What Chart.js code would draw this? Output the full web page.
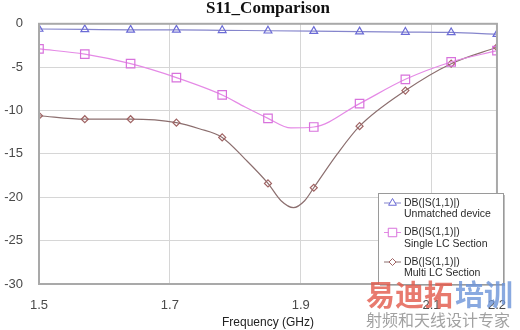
<!DOCTYPE html>
<html>
<head>
<meta charset="utf-8">
<script src="https://cdn.jsdelivr.net/npm/chart.js@4/dist/chart.umd.min.js"></script>
<style>
  html, body { margin: 0; padding: 0; background: #fff; }
  #wrap { width: 520px; height: 330px; position: relative; }
</style>
</head>
<body>
<div id="wrap"><canvas id="chart" width="520" height="330"></canvas></div>
<script>
// frequencies (GHz) where the markers sit
const markerFreqs = [1.5, 1.57, 1.64, 1.71, 1.78, 1.85, 1.92, 1.99, 2.06, 2.13, 2.2];

// S11 in dB at marker frequencies
const unmatched = [-0.6, -0.65, -0.7, -0.7, -0.75, -0.8, -0.85, -0.9, -0.95, -1.0, -1.2];
const singleLC  = [-2.9, -3.5, -4.6, -6.2, -8.2, -10.9, -11.9, -9.2, -6.4, -4.4, -3.1];
const multiLC   = [-10.6, -11.0, -11.0, -11.4, -13.1, -18.4, -18.9, -11.8, -7.7, -4.6, -2.7];

// extra curve points read between markers (no marker drawn)
const singleExtraFreqs = [1.815, 1.885];
const singleExtra      = [-9.6, -12.0];
const multiExtraFreqs  = [1.745, 1.815, 1.87, 1.889, 1.906, 1.956];
const multiExtra       = [-12.1, -15.6, -20.4, -21.2, -20.4, -15.0];

const xTicks = [1.5, 1.7, 1.9, 2.1, 2.2];
const seriesNames = ['Unmatched device', 'Single LC Section', 'Multi LC Section'];

function buildPoints(vals, extraF, extraV) {
    const pts = markerFreqs.map((f, i) => ({x: f, y: vals[i], m: true}));
    (extraF || []).forEach((f, i) => pts.push({x: f, y: extraV[i], m: false}));
    return pts.sort((a, b) => a.x - b.x);
}

const colors = [
    {line: '#8585cc', mark: '#6b6bd6'},
    {line: '#e58ae6', mark: '#d872dc'},
    {line: '#8c6f6f', mark: '#a06464'}
];
const styles = ['triangle', 'rect', 'rectRot'];
const radii = [4.5, 6, 3.5];

function makeSet(i, pts) {
    return {
        label: seriesNames[i],
        data: pts,
        borderColor: colors[i].line,
        borderWidth: 1.2,
        cubicInterpolationMode: 'monotone',
        pointStyle: styles[i],
        pointBorderColor: colors[i].mark,
        pointBackgroundColor: 'rgba(255,255,255,0)',
        pointBorderWidth: 1.2,
        pointRadius: ctx => (ctx.raw && ctx.raw.m ? radii[i] : 0),
        pointHoverRadius: 0
    };
}

const frameAndLegend = {
    id: 'frameAndLegend',
    afterDatasetsDraw(chart) {
        const ctx = chart.ctx;
        const a = chart.chartArea;
        ctx.save();
        ctx.strokeStyle = '#a9a9a9';
        ctx.lineWidth = 2;
        ctx.strokeRect(a.left, a.top, a.right - a.left, a.bottom - a.top);

        // title, centred over the plot area
        ctx.fillStyle = '#111';
        ctx.font = 'bold 17px "Liberation Serif", "Times New Roman", serif';
        ctx.textAlign = 'center';
        ctx.textBaseline = 'middle';
        ctx.fillText('S11_Comparison', (a.left + a.right) / 2, 9);
        ctx.textAlign = 'left';

        // legend box
        const bx = 378, by = 193, bw = 125, bh = 91;
        ctx.fillStyle = 'rgba(0,0,0,0.25)';
        ctx.fillRect(bx + 2, by + 2, bw, bh);
        ctx.fillStyle = '#fff';
        ctx.fillRect(bx, by, bw, bh);
        ctx.strokeStyle = '#9a9a9a';
        ctx.lineWidth = 1;
        ctx.strokeRect(bx + 0.5, by + 0.5, bw, bh);

        ctx.font = '10.5px "Liberation Sans", Arial, sans-serif';
        chart.data.datasets.forEach((ds, i) => {
            const y1 = by + 10 + i * 29.5;
            ctx.strokeStyle = ds.borderColor;
            ctx.lineWidth = 1;
            ctx.beginPath();
            ctx.moveTo(bx + 6, y1);
            ctx.lineTo(bx + 23, y1);
            ctx.stroke();
            ctx.fillStyle = '#fff';
            ctx.strokeStyle = ds.pointBorderColor;
            Chart.helpers.drawPoint(ctx, {
                pointStyle: ds.pointStyle, radius: radii[i], rotation: 0, borderWidth: 1
            }, bx + 14.5, y1);
            ctx.fillStyle = '#2a2a2a';
            ctx.fillText('DB(|S(1,1)|)', bx + 26, y1);
            ctx.fillText(ds.label, bx + 26, y1 + 11.5);
        });

        // watermark
        ctx.globalAlpha = 0.8;
        ctx.textBaseline = 'alphabetic';
        ctx.font = 'bold 29px "Noto Sans CJK SC", sans-serif';
        ctx.fillStyle = '#e2594a';
        ctx.fillText('易迪拓', 366, 306);
        ctx.fillStyle = '#6b93d8';
        ctx.fillText('培训', 455, 306);
        ctx.font = '16px "Noto Sans CJK SC", sans-serif';
        ctx.fillStyle = '#8a8a8a';
        ctx.fillText('射频和天线设计专家', 366, 326);
        ctx.restore();
    }
};

new Chart(document.getElementById('chart'), {
    type: 'line',
    data: {
        datasets: [
            makeSet(0, buildPoints(unmatched)),
            makeSet(1, buildPoints(singleLC, singleExtraFreqs, singleExtra)),
            makeSet(2, buildPoints(multiLC, multiExtraFreqs, multiExtra))
        ]
    },
    options: {
        responsive: false,
        animation: false,
        layout: {
            padding: {left: 0, right: 19, top: 22, bottom: 0}
        },
        plugins: {
            legend: {display: false},
            tooltip: {enabled: false},
            title: {display: false}
        },
        scales: {
            x: {
                type: 'linear',
                min: 1.5,
                max: 2.2,
                afterBuildTicks: scale => {
                    scale.ticks = xTicks.map(v => ({value: v}));
                },
                afterFit: scale => { scale.height = 46; },
                ticks: {
                    color: '#4a4a4a',
                    padding: 14,
                    maxRotation: 0,
                    font: {family: '"Liberation Sans", Arial, sans-serif', size: 13},
                    callback: v => v.toFixed(1)
                },
                grid: {color: '#d6d6d6', drawTicks: false},
                border: {display: false},
                title: {
                    display: true,
                    text: 'Frequency (GHz)',
                    color: '#222',
                    font: {family: '"Liberation Sans", Arial, sans-serif', size: 12},
                    padding: {top: 1, bottom: 0}
                }
            },
            y: {
                min: -30,
                max: 0,
                afterFit: scale => { scale.width = 39; },
                ticks: {
                    stepSize: 5,
                    color: '#4a4a4a',
                    padding: 16,
                    font: {family: '"Liberation Sans", Arial, sans-serif', size: 13}
                },
                grid: {color: '#d6d6d6', drawTicks: false},
                border: {display: false}
            }
        }
    },
    plugins: [frameAndLegend]
});
</script>
</body>
</html>
